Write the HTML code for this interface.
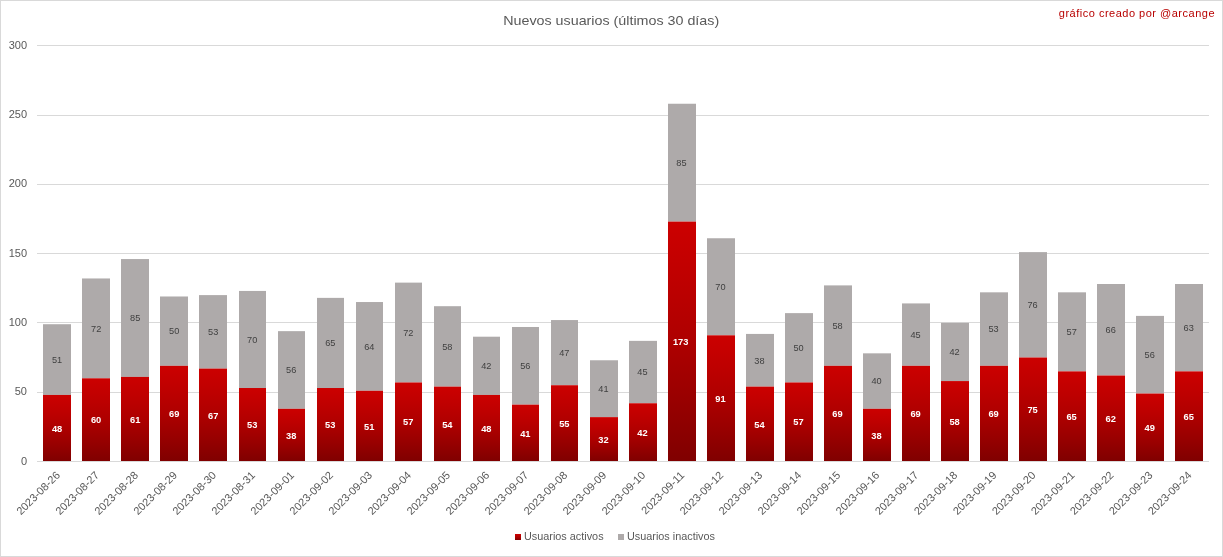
<!DOCTYPE html>
<html lang="es"><head><meta charset="utf-8"><title>Nuevos usuarios</title>
<style>html,body{margin:0;padding:0;background:#fff;overflow:hidden}svg{display:block}text{font-family:"Liberation Sans",sans-serif}.ax{font-size:11px;fill:#595959}.dl{font-size:9.2px;fill:#404040;text-anchor:middle}.dlb{font-size:9.3px;fill:#fff;font-weight:bold;text-anchor:middle}</style></head><body>
<svg width="1223" height="557" viewBox="0 0 1223 557">
<defs><linearGradient id="g" x1="0" y1="0" x2="0" y2="1"><stop offset="0" stop-color="#cc0000"/><stop offset="0.25" stop-color="#be0000"/><stop offset="0.5" stop-color="#ae0000"/><stop offset="0.75" stop-color="#980000"/><stop offset="1" stop-color="#800000"/></linearGradient></defs>
<rect x="0" y="0" width="1223" height="557" fill="#fff"/>
<rect x="0.5" y="0.5" width="1222" height="556" fill="none" stroke="#d9d9d9" stroke-width="1"/>
<rect x="37" y="45" width="1172" height="1" fill="#d9d9d9"/>
<text class="ax" x="27" y="48.50" text-anchor="end">300</text>
<rect x="37" y="115" width="1172" height="1" fill="#d9d9d9"/>
<text class="ax" x="27" y="117.83" text-anchor="end">250</text>
<rect x="37" y="184" width="1172" height="1" fill="#d9d9d9"/>
<text class="ax" x="27" y="187.17" text-anchor="end">200</text>
<rect x="37" y="253" width="1172" height="1" fill="#d9d9d9"/>
<text class="ax" x="27" y="256.50" text-anchor="end">150</text>
<rect x="37" y="322" width="1172" height="1" fill="#d9d9d9"/>
<text class="ax" x="27" y="325.83" text-anchor="end">100</text>
<rect x="37" y="392" width="1172" height="1" fill="#d9d9d9"/>
<text class="ax" x="27" y="395.17" text-anchor="end">50</text>
<rect x="37" y="461" width="1172" height="1" fill="#d9d9d9"/>
<text class="ax" x="27" y="464.50" text-anchor="end">0</text>
<rect x="43" y="324.22" width="28" height="70.72" fill="#aeaaaa"/>
<rect x="43" y="394.94" width="28" height="66.06" fill="url(#g)"/>
<text class="dl" x="57.114999999999995" y="362.88">51</text>
<text class="dlb" x="57.114999999999995" y="431.67">48</text>
<text class="ax" text-anchor="end" transform="translate(60.75,475.80) rotate(-45)">2023-08-26</text>
<rect x="82" y="278.46" width="28" height="99.84" fill="#aeaaaa"/>
<rect x="82" y="378.30" width="28" height="82.70" fill="url(#g)"/>
<text class="dl" x="96.135" y="331.68">72</text>
<text class="dlb" x="96.135" y="423.35">60</text>
<text class="ax" text-anchor="end" transform="translate(99.77,475.80) rotate(-45)">2023-08-27</text>
<rect x="121" y="259.05" width="28" height="117.87" fill="#aeaaaa"/>
<rect x="121" y="376.91" width="28" height="84.09" fill="url(#g)"/>
<text class="dl" x="135.155" y="321.28">85</text>
<text class="dlb" x="135.155" y="422.66">61</text>
<text class="ax" text-anchor="end" transform="translate(138.79,475.80) rotate(-45)">2023-08-28</text>
<rect x="160" y="296.49" width="28" height="69.33" fill="#aeaaaa"/>
<rect x="160" y="365.82" width="28" height="95.18" fill="url(#g)"/>
<text class="dl" x="174.175" y="334.45">50</text>
<text class="dlb" x="174.175" y="417.11">69</text>
<text class="ax" text-anchor="end" transform="translate(177.81,475.80) rotate(-45)">2023-08-29</text>
<rect x="199" y="295.10" width="28" height="73.49" fill="#aeaaaa"/>
<rect x="199" y="368.59" width="28" height="92.41" fill="url(#g)"/>
<text class="dl" x="213.19500000000002" y="335.15">53</text>
<text class="dlb" x="213.19500000000002" y="418.50">67</text>
<text class="ax" text-anchor="end" transform="translate(216.83,475.80) rotate(-45)">2023-08-30</text>
<rect x="239" y="290.94" width="27" height="97.07" fill="#aeaaaa"/>
<rect x="239" y="388.01" width="27" height="72.99" fill="url(#g)"/>
<text class="dl" x="252.21500000000003" y="342.77">70</text>
<text class="dlb" x="252.21500000000003" y="428.20">53</text>
<text class="ax" text-anchor="end" transform="translate(255.85,475.80) rotate(-45)">2023-08-31</text>
<rect x="278" y="331.15" width="27" height="77.65" fill="#aeaaaa"/>
<rect x="278" y="408.81" width="27" height="52.19" fill="url(#g)"/>
<text class="dl" x="291.235" y="373.28">56</text>
<text class="dlb" x="291.235" y="438.60">38</text>
<text class="ax" text-anchor="end" transform="translate(294.87,475.80) rotate(-45)">2023-09-01</text>
<rect x="317" y="297.87" width="27" height="90.13" fill="#aeaaaa"/>
<rect x="317" y="388.01" width="27" height="72.99" fill="url(#g)"/>
<text class="dl" x="330.25500000000005" y="346.24">65</text>
<text class="dlb" x="330.25500000000005" y="428.20">53</text>
<text class="ax" text-anchor="end" transform="translate(333.89,475.80) rotate(-45)">2023-09-02</text>
<rect x="356" y="302.03" width="27" height="88.75" fill="#aeaaaa"/>
<rect x="356" y="390.78" width="27" height="70.22" fill="url(#g)"/>
<text class="dl" x="369.27500000000003" y="349.71">64</text>
<text class="dlb" x="369.27500000000003" y="429.59">51</text>
<text class="ax" text-anchor="end" transform="translate(372.91,475.80) rotate(-45)">2023-09-03</text>
<rect x="395" y="282.62" width="27" height="99.84" fill="#aeaaaa"/>
<rect x="395" y="382.46" width="27" height="78.54" fill="url(#g)"/>
<text class="dl" x="408.295" y="335.84">72</text>
<text class="dlb" x="408.295" y="425.43">57</text>
<text class="ax" text-anchor="end" transform="translate(411.93,475.80) rotate(-45)">2023-09-04</text>
<rect x="434" y="306.19" width="27" height="80.43" fill="#aeaaaa"/>
<rect x="434" y="386.62" width="27" height="74.38" fill="url(#g)"/>
<text class="dl" x="447.31500000000005" y="349.71">58</text>
<text class="dlb" x="447.31500000000005" y="427.51">54</text>
<text class="ax" text-anchor="end" transform="translate(450.95,475.80) rotate(-45)">2023-09-05</text>
<rect x="473" y="336.70" width="27" height="58.24" fill="#aeaaaa"/>
<rect x="473" y="394.94" width="27" height="66.06" fill="url(#g)"/>
<text class="dl" x="486.33500000000004" y="369.12">42</text>
<text class="dlb" x="486.33500000000004" y="431.67">48</text>
<text class="ax" text-anchor="end" transform="translate(489.97,475.80) rotate(-45)">2023-09-06</text>
<rect x="512" y="326.99" width="27" height="77.65" fill="#aeaaaa"/>
<rect x="512" y="404.65" width="27" height="56.35" fill="url(#g)"/>
<text class="dl" x="525.3549999999999" y="369.12">56</text>
<text class="dlb" x="525.3549999999999" y="436.52">41</text>
<text class="ax" text-anchor="end" transform="translate(528.99,475.80) rotate(-45)">2023-09-07</text>
<rect x="551" y="320.06" width="27" height="65.17" fill="#aeaaaa"/>
<rect x="551" y="385.23" width="27" height="75.77" fill="url(#g)"/>
<text class="dl" x="564.375" y="355.95">47</text>
<text class="dlb" x="564.375" y="426.82">55</text>
<text class="ax" text-anchor="end" transform="translate(568.01,475.80) rotate(-45)">2023-09-08</text>
<rect x="590" y="360.27" width="28" height="56.85" fill="#aeaaaa"/>
<rect x="590" y="417.13" width="28" height="43.87" fill="url(#g)"/>
<text class="dl" x="603.395" y="392.00">41</text>
<text class="dlb" x="603.395" y="442.76">32</text>
<text class="ax" text-anchor="end" transform="translate(607.03,475.80) rotate(-45)">2023-09-09</text>
<rect x="629" y="340.86" width="28" height="62.40" fill="#aeaaaa"/>
<rect x="629" y="403.26" width="28" height="57.74" fill="url(#g)"/>
<text class="dl" x="642.415" y="375.36">45</text>
<text class="dlb" x="642.415" y="435.83">42</text>
<text class="ax" text-anchor="end" transform="translate(646.05,475.80) rotate(-45)">2023-09-10</text>
<rect x="668" y="103.74" width="28" height="117.87" fill="#aeaaaa"/>
<rect x="668" y="221.61" width="28" height="239.39" fill="url(#g)"/>
<text class="dl" x="681.435" y="165.97">85</text>
<text class="dlb" x="680.635" y="345.00">173</text>
<text class="ax" text-anchor="end" transform="translate(685.07,475.80) rotate(-45)">2023-09-11</text>
<rect x="707" y="238.25" width="28" height="97.07" fill="#aeaaaa"/>
<rect x="707" y="335.31" width="28" height="125.69" fill="url(#g)"/>
<text class="dl" x="720.4549999999999" y="290.08">70</text>
<text class="dlb" x="720.4549999999999" y="401.86">91</text>
<text class="ax" text-anchor="end" transform="translate(724.09,475.80) rotate(-45)">2023-09-12</text>
<rect x="746" y="333.93" width="28" height="52.69" fill="#aeaaaa"/>
<rect x="746" y="386.62" width="28" height="74.38" fill="url(#g)"/>
<text class="dl" x="759.4749999999999" y="363.57">38</text>
<text class="dlb" x="759.4749999999999" y="427.51">54</text>
<text class="ax" text-anchor="end" transform="translate(763.11,475.80) rotate(-45)">2023-09-13</text>
<rect x="785" y="313.13" width="28" height="69.33" fill="#aeaaaa"/>
<rect x="785" y="382.46" width="28" height="78.54" fill="url(#g)"/>
<text class="dl" x="798.495" y="351.09">50</text>
<text class="dlb" x="798.495" y="425.43">57</text>
<text class="ax" text-anchor="end" transform="translate(802.13,475.80) rotate(-45)">2023-09-14</text>
<rect x="824" y="285.39" width="28" height="80.43" fill="#aeaaaa"/>
<rect x="824" y="365.82" width="28" height="95.18" fill="url(#g)"/>
<text class="dl" x="837.515" y="328.91">58</text>
<text class="dlb" x="837.515" y="417.11">69</text>
<text class="ax" text-anchor="end" transform="translate(841.15,475.80) rotate(-45)">2023-09-15</text>
<rect x="863" y="353.34" width="28" height="55.47" fill="#aeaaaa"/>
<rect x="863" y="408.81" width="28" height="52.19" fill="url(#g)"/>
<text class="dl" x="876.535" y="384.37">40</text>
<text class="dlb" x="876.535" y="438.60">38</text>
<text class="ax" text-anchor="end" transform="translate(880.17,475.80) rotate(-45)">2023-09-16</text>
<rect x="902" y="303.42" width="28" height="62.40" fill="#aeaaaa"/>
<rect x="902" y="365.82" width="28" height="95.18" fill="url(#g)"/>
<text class="dl" x="915.555" y="337.92">45</text>
<text class="dlb" x="915.555" y="417.11">69</text>
<text class="ax" text-anchor="end" transform="translate(919.19,475.80) rotate(-45)">2023-09-17</text>
<rect x="941" y="322.83" width="28" height="58.24" fill="#aeaaaa"/>
<rect x="941" y="381.07" width="28" height="79.93" fill="url(#g)"/>
<text class="dl" x="954.5749999999999" y="355.25">42</text>
<text class="dlb" x="954.5749999999999" y="424.74">58</text>
<text class="ax" text-anchor="end" transform="translate(958.21,475.80) rotate(-45)">2023-09-18</text>
<rect x="980" y="292.33" width="28" height="73.49" fill="#aeaaaa"/>
<rect x="980" y="365.82" width="28" height="95.18" fill="url(#g)"/>
<text class="dl" x="993.5949999999999" y="332.37">53</text>
<text class="dlb" x="993.5949999999999" y="417.11">69</text>
<text class="ax" text-anchor="end" transform="translate(997.23,475.80) rotate(-45)">2023-09-19</text>
<rect x="1019" y="252.11" width="28" height="105.39" fill="#aeaaaa"/>
<rect x="1019" y="357.50" width="28" height="103.50" fill="url(#g)"/>
<text class="dl" x="1032.615" y="308.11">76</text>
<text class="dlb" x="1032.615" y="412.95">75</text>
<text class="ax" text-anchor="end" transform="translate(1036.25,475.80) rotate(-45)">2023-09-20</text>
<rect x="1058" y="292.33" width="28" height="79.04" fill="#aeaaaa"/>
<rect x="1058" y="371.37" width="28" height="89.63" fill="url(#g)"/>
<text class="dl" x="1071.635" y="335.15">57</text>
<text class="dlb" x="1071.635" y="419.88">65</text>
<text class="ax" text-anchor="end" transform="translate(1075.27,475.80) rotate(-45)">2023-09-21</text>
<rect x="1097" y="284.01" width="28" height="91.52" fill="#aeaaaa"/>
<rect x="1097" y="375.53" width="28" height="85.47" fill="url(#g)"/>
<text class="dl" x="1110.6550000000002" y="333.07">66</text>
<text class="dlb" x="1110.6550000000002" y="421.96">62</text>
<text class="ax" text-anchor="end" transform="translate(1114.29,475.80) rotate(-45)">2023-09-22</text>
<rect x="1136" y="315.90" width="28" height="77.65" fill="#aeaaaa"/>
<rect x="1136" y="393.55" width="28" height="67.45" fill="url(#g)"/>
<text class="dl" x="1149.6750000000002" y="358.03">56</text>
<text class="dlb" x="1149.6750000000002" y="430.98">49</text>
<text class="ax" text-anchor="end" transform="translate(1153.31,475.80) rotate(-45)">2023-09-23</text>
<rect x="1175" y="284.01" width="28" height="87.36" fill="#aeaaaa"/>
<rect x="1175" y="371.37" width="28" height="89.63" fill="url(#g)"/>
<text class="dl" x="1188.6950000000002" y="330.99">63</text>
<text class="dlb" x="1188.6950000000002" y="419.88">65</text>
<text class="ax" text-anchor="end" transform="translate(1192.33,475.80) rotate(-45)">2023-09-24</text>
<text x="503.2" y="24.8" textLength="216" lengthAdjust="spacingAndGlyphs" font-size="13.5px" fill="#595959">Nuevos usuarios (últimos 30 días)</text>
<text x="1058.8" y="16.9" textLength="155.7" lengthAdjust="spacing" font-size="11px" fill="#b80000">gráfico creado por @arcange</text>
<rect x="515" y="534" width="6" height="6" fill="url(#g)"/>
<text class="ax" style="font-size:10.85px" x="524" y="540">Usuarios activos</text>
<rect x="618" y="534" width="6" height="6" fill="#aeaaaa"/>
<text class="ax" style="font-size:10.85px" x="627" y="540">Usuarios inactivos</text>
</svg></body></html>
